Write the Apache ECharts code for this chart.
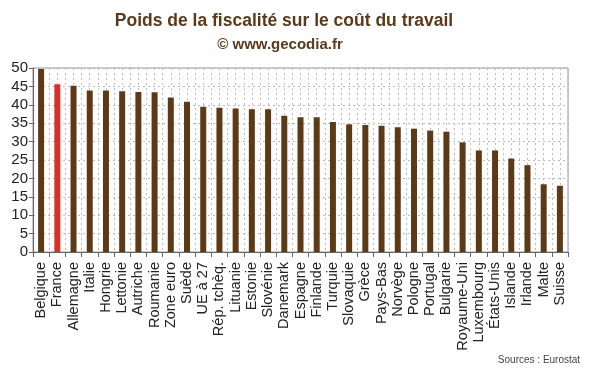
<!DOCTYPE html>
<html><head><meta charset="utf-8">
<script src="https://cdn.jsdelivr.net/npm/echarts@6/dist/echarts.min.js"></script>
<style>html,body{margin:0;padding:0;background:#fff}#c{width:600px;height:372px}</style>
</head><body><div id="c"></div>
<script>
const categories = ["Belgique","France","Allemagne","Italie","Hongrie","Lettonie","Autriche","Roumanie","Zone euro","Suède","UE à 27","Rép. tchèq.","Lituanie","Estonie","Slovénie","Danemark","Espagne","Finlande","Turquie","Slovaquie","Grèce","Pays-Bas","Norvège","Pologne","Portugal","Bulgarie","Royaume-Uni","Luxembourg","États-Unis","Islande","Irlande","Malte","Suisse"];
const values = [49.7,45.6,45.2,43.9,43.9,43.7,43.5,43.4,42.0,40.8,39.5,39.2,39.0,38.8,38.8,37.0,36.6,36.6,35.3,34.7,34.5,34.3,33.9,33.5,33.0,32.7,29.8,27.6,27.6,25.4,23.6,18.4,18.0];
const yTicks = [0,5,10,15,20,25,30,35,40,45,50];
const highlight = "France";

const halfSlots = categories.flatMap(c => [c + "_a", c + "_b"]);
const chart = echarts.init(document.getElementById('c'), null, {renderer:'canvas'});
chart.setOption({
  animation:false,
  backgroundColor:'#fff',
  title:[
    {text:'Poids de la fiscalité sur le coût du travail', left:279, top:7, textAlign:'center',
     textStyle:{fontFamily:'Liberation Sans, Arial', fontSize:17.5, fontWeight:'bold', color:'#5a3a1a'}},
    {text:'© www.gecodia.fr', left:275, top:32, textAlign:'center',
     textStyle:{fontFamily:'Liberation Sans, Arial', fontSize:15, fontWeight:'bold', color:'#5a3a1a'}},
    {text:'Sources : Eurostat', left:534, top:350, textAlign:'center',
     textStyle:{fontFamily:'Liberation Sans, Arial', fontSize:10, fontWeight:'normal', color:'#444'}}
  ],
  grid:{left:33, right:32, top:68, bottom:120, show:true, borderColor:'#999', borderWidth:1},
  xAxis:[
    {type:'category', data:categories, boundaryGap:true,
     axisLine:{show:true, lineStyle:{color:'#666'}},
     axisTick:{show:true, inside:false, length:5, lineStyle:{color:'#666'}},
     splitLine:{show:false},
     axisLabel:{rotate:90, interval:0, fontFamily:'Liberation Sans, Arial', fontSize:14.5, color:'#222', margin:10}},
    {type:'category', data:halfSlots, boundaryGap:true, position:'bottom',
     axisLine:{show:false}, axisTick:{show:false}, axisLabel:{show:false},
     splitLine:{show:true, interval:0, lineStyle:{color:'#bbb', type:[2,3], width:1}}}
  ],
  yAxis:{type:'value', min:0, max:50, interval:5,
    axisLine:{show:true, lineStyle:{color:'#666'}},
    axisTick:{show:true, length:4, lineStyle:{color:'#666'}},
    splitLine:{show:true, lineStyle:{color:'#bbb', type:[2,3]}},
    axisLabel:{fontFamily:'Liberation Sans, Arial', fontSize:15, color:'#222', margin:5,
      formatter:v => yTicks.includes(v) ? String(v) : ''}},
  series:[{type:'bar', xAxisIndex:0, barWidth:6,
    data:values.map((v,i)=>({value:v, itemStyle:{color: categories[i]===highlight ? '#d9302a' : '#5c3a17'}}))}]
});
</script></body></html>
